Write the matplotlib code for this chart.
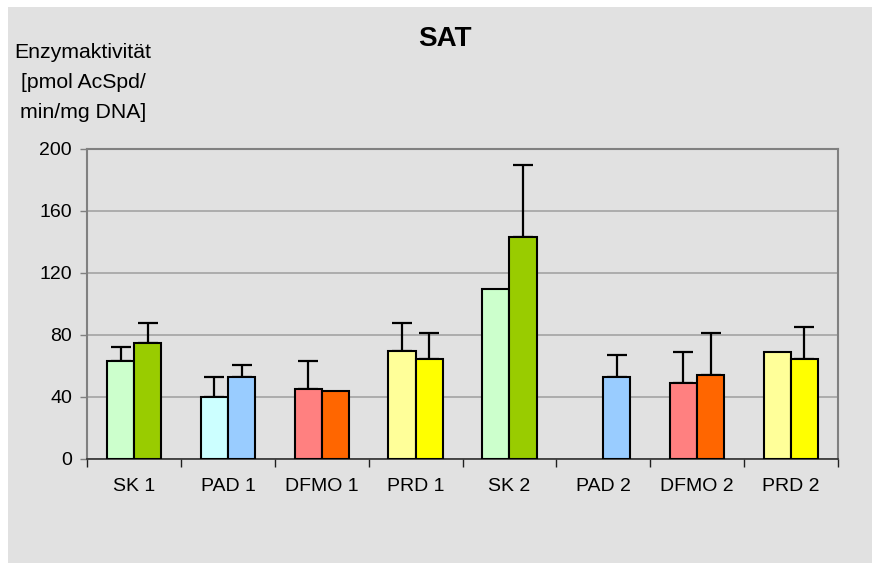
import numpy as np
import matplotlib
matplotlib.use("Agg")
import matplotlib.pyplot as plt
from matplotlib.patches import Rectangle

categories = ["SK 1", "PAD 1", "DFMO 1", "PRD 1", "SK 2", "PAD 2", "DFMO 2", "PRD 2"]
series_a = [63.2, 40.0, 45.2, 69.7, 109.7, np.nan, 49.0, 68.6]
series_b = [74.8, 52.9, 43.9, 64.5, 143.2, 52.9, 54.2, 64.5]
err_a = [8.9, 12.9, 18.0, 17.8, np.nan, np.nan, 19.6, np.nan]
err_b = [12.7, 7.6, np.nan, 16.8, 46.5, 14.0, 27.1, 20.7]
colors_a = ["#CCFFCC", "#CCFFFF", "#FF8080", "#FFFF99"] * 2
colors_b = ["#99CC00", "#99CCFF", "#FF6600", "#FFFF00"] * 2
yticks = [0, 40, 80, 120, 160, 200]
title = "SAT"
ylabel_lines = ["Enzymaktivität", "[pmol AcSpd/", "min/mg DNA]"]

plt.rcParams['font.family'] = ['Liberation Sans', 'DejaVu Sans']

W, H = 872, 563
fig = plt.figure(figsize=(W / 100, H / 100), dpi=100)
fig.patch.set_facecolor("white")
bg = "#E1E1E1"
fig.patches.append(Rectangle((8 / W, 0), 1, (H - 7) / H, transform=fig.transFigure,
                             facecolor=bg, edgecolor="none", zorder=-10))

left, right, top, bottom = 87.3 / W, 837.7 / W, 148.7 / H, 458.7 / H
ax = fig.add_axes([left, 1 - bottom, right - left, bottom - top])
ax.set_facecolor(bg)

x = np.arange(len(categories))
bw = 0.29
ekw = dict(elinewidth=1.6, capthick=1.6, ecolor="black")
for i in range(len(categories)):
    if not np.isnan(series_a[i]):
        ax.bar(x[i] - bw / 2, series_a[i], bw, color=colors_a[i], edgecolor="black",
               linewidth=1.5, zorder=3)
        if not np.isnan(err_a[i]):
            ax.errorbar(x[i] - bw / 2, series_a[i], yerr=[[0], [err_a[i]]], fmt="none",
                        capsize=7, zorder=2, **ekw)
    if not np.isnan(series_b[i]):
        ax.bar(x[i] + bw / 2, series_b[i], bw, color=colors_b[i], edgecolor="black",
               linewidth=1.5, zorder=3)
        if not np.isnan(err_b[i]):
            ax.errorbar(x[i] + bw / 2, series_b[i], yerr=[[0], [err_b[i]]], fmt="none",
                        capsize=7, zorder=2, **ekw)

ax.set_xlim(-0.5, len(categories) - 0.5)
ax.set_ylim(0, 200)
ax.set_yticks(yticks)
ax.set_yticklabels([str(v) for v in yticks], fontsize=14)
ax.yaxis.grid(True, color="#A8A8A8", linewidth=1.3, zorder=0)
ax.set_axisbelow(True)

ax.set_xticks(np.arange(-0.5, len(categories), 1.0))
ax.set_xticklabels([])
ax.set_xticks(x, minor=True)
ax.set_xticklabels(categories, minor=True, fontsize=14)
ax.tick_params(axis="x", which="minor", length=0, pad=14)
ax.tick_params(axis="x", which="major", length=6, width=1, color="#202020")
ax.tick_params(axis="y", length=5, width=1, color="#808080", pad=6)

for s in ["left", "top", "right"]:
    ax.spines[s].set_color("#808080")
    ax.spines[s].set_linewidth(1.5)
ax.spines["bottom"].set_color("#303030")
ax.spines["bottom"].set_linewidth(1.2)

fig.text(445 / W, 1 - 39 / H, title, ha="center", va="center", fontsize=20,
         fontweight="bold")
for k, line in enumerate(ylabel_lines):
    fig.text(83 / W, 1 - (52 + 30 * k) / H, line, ha="center", va="center", fontsize=15.3)

fig.savefig("out.png", dpi=100, facecolor=fig.get_facecolor())
